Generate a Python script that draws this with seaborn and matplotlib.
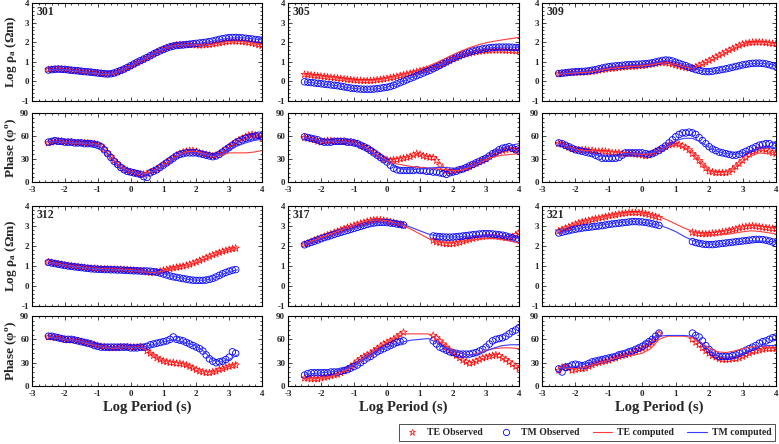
# -*- coding: utf-8 -*-
"""
MT sounding curves: apparent resistivity and phase for six stations,
observed (TE/TM markers) against computed model responses (lines).
"""

import matplotlib
matplotlib.use('Agg')
import matplotlib.pyplot as plt
from matplotlib.lines import Line2D
from matplotlib.ticker import MultipleLocator
import numpy as np
import seaborn as sns

N = float('nan')

# log10 period (s) of the observed soundings and of the model responses
LOGT_OBS = [-2.5, -2.4, -2.3, -2.2, -2.1, -2.0, -1.9, -1.8, -1.7, -1.6,
            -1.5, -1.4, -1.3, -1.2, -1.1, -1.0, -0.9, -0.8, -0.7, -0.6,
            -0.5, -0.4, -0.3, -0.2, -0.1, 0.0, 0.1, 0.2, 0.3, 0.4,
            0.5, 0.6, 0.7, 0.8, 0.9, 1.0, 1.1, 1.2, 1.3, 1.4,
            1.5, 1.6, 1.7, 1.8, 1.9, 2.0, 2.1, 2.2, 2.3, 2.4,
            2.5, 2.6, 2.7, 2.8, 2.9, 3.0, 3.1, 3.2, 3.3, 3.4,
            3.5, 3.6, 3.7, 3.8, 3.9, 4.0]
LOGT_CALC = [-2.5, -2.25, -2.0, -1.75, -1.5, -1.25, -1.0, -0.75, -0.5, -0.25,
             0.0, 0.25, 0.5, 0.75, 1.0, 1.25, 1.5, 1.75, 2.0, 2.25,
             2.5, 2.75, 3.0, 3.25, 3.5, 3.75, 4.0]

# ---- station 301 ----
S301_TE_RHO = [0.60, 0.61, 0.62, 0.62, 0.61, 0.60, 0.58, 0.56, 0.55, 0.53,
               0.50, 0.48, 0.47, 0.46, 0.44, 0.42, 0.40, 0.38, 0.37, 0.38,
               0.42, 0.48, 0.55, 0.62, 0.70, 0.78, 0.87, 0.96, 1.04, 1.12,
               1.20, 1.30, 1.40, 1.50, 1.58, 1.65, 1.72, 1.78, 1.82, 1.85,
               1.86, 1.86, 1.87, 1.87, 1.86, 1.85, 1.84, 1.85, 1.86, 1.88,
               1.90, 1.93, 1.96, 1.99, 2.02, 2.04, 2.05, 2.05, 2.04, 2.03,
               2.01, 1.98, 1.95, 1.91, 1.86, 1.82]
S301_TM_RHO = [0.58, 0.60, 0.62, 0.63, 0.62, 0.61, 0.59, 0.57, 0.55, 0.54,
               0.52, 0.50, 0.49, 0.47, 0.45, 0.43, 0.41, 0.39, 0.38, 0.39,
               0.43, 0.49, 0.56, 0.63, 0.71, 0.80, 0.89, 0.98, 1.06, 1.14,
               1.22, 1.31, 1.40, 1.48, 1.56, 1.63, 1.70, 1.76, 1.80, 1.83,
               1.85, 1.86, 1.88, 1.90, 1.92, 1.94, 1.96, 1.98, 2.00, 2.03,
               2.06, 2.10, 2.14, 2.18, 2.21, 2.23, 2.24, 2.24, 2.23, 2.22,
               2.20, 2.18, 2.16, 2.14, 2.12, 2.10]
S301_TE_PHA = [51, 52, 53, 53, 53, 52, 52, 52, 51, 51,
               51, 51, 51, 50, 50, 49, 47, 43, 38, 33,
               28, 24, 20, 17, 15, 13, 12, 11, 10, 10,
               11, 13, 15, 17, 20, 23, 26, 29, 32, 35,
               37, 39, 40, 41, 41, 40, 38, 37, 36, 35,
               34, 35, 37, 40, 43, 46, 49, 52, 55, 57,
               59, 61, 62, 61, 59, 57]
S301_TM_PHA = [52, 53, 54, 53, 53, 52, 52, 52, 51, 51,
               51, 50, 50, 50, 49, 48, 46, 42, 37, 32,
               27, 23, 19, 16, 14, 13, 12, 11, 10, 7,
               6, 12, 14, 16, 19, 22, 25, 28, 31, 34,
               36, 37, 38, 38, 38, 38, 37, 36, 35, 34,
               33, 34, 36, 39, 42, 45, 48, 51, 53, 55,
               57, 58, 59, 60, 61, 60]
S301_TE_RHO_C = [0.60, 0.62, 0.60, 0.56, 0.50, 0.46, 0.41, 0.38, 0.42, 0.58,
                 0.78, 1.00, 1.22, 1.45, 1.65, 1.80, 1.86, 1.87, 1.86, 1.86,
                 1.90, 1.98, 2.04, 2.05, 2.02, 1.96, 1.88]
S301_TM_RHO_C = [0.59, 0.62, 0.60, 0.56, 0.51, 0.46, 0.42, 0.39, 0.43, 0.59,
                 0.80, 1.02, 1.24, 1.45, 1.64, 1.78, 1.85, 1.88, 1.93, 1.98,
                 2.05, 2.14, 2.21, 2.23, 2.21, 2.17, 2.12]
S301_TE_PHA_C = [52, 53, 52, 51, 51, 50, 49, 40, 28, 18,
                 14, 11, 11, 15, 21, 28, 36, 40, 40, 37,
                 34, 35, 38, 38, 38, 39, 41]
S301_TM_PHA_C = [52, 53, 52, 51, 51, 50, 48, 40, 27, 17,
                 13, 11, 10, 15, 20, 27, 35, 38, 38, 36,
                 34, 36, 42, 47, 51, 54, 56]

# ---- station 305 ----
S305_TE_RHO = [0.35, 0.34, 0.32, 0.30, 0.28, 0.26, 0.24, 0.22, 0.20, 0.18,
               0.16, 0.14, 0.12, 0.10, 0.08, 0.06, 0.05, 0.04, 0.03, 0.03,
               0.04, 0.05, 0.07, 0.09, 0.12, 0.15, 0.18, 0.21, 0.25, 0.29,
               0.33, 0.37, 0.41, 0.45, 0.49, 0.53, 0.57, 0.61, 0.65, 0.70,
               0.76, 0.83, 0.90, 0.98, 1.06, 1.14, 1.21, 1.28, 1.34, 1.39,
               1.43, 1.47, 1.50, 1.53, 1.55, 1.57, 1.58, 1.59, 1.59, 1.59,
               1.59, 1.58, 1.57, 1.56, 1.55, 1.55]
S305_TM_RHO = [-0.02, -0.04, -0.06, -0.08, -0.10, -0.12, -0.14, -0.16, -0.18, -0.20,
               -0.22, -0.25, -0.28, -0.31, -0.34, -0.36, -0.38, -0.39, -0.40, -0.40,
               -0.40, -0.39, -0.37, -0.35, -0.32, -0.30, -0.26, -0.20, -0.13, -0.06,
               0.01, 0.08, 0.15, 0.22, 0.29, 0.36, 0.43, 0.50, 0.57, 0.65,
               0.73, 0.82, 0.91, 1.00, 1.09, 1.17, 1.25, 1.32, 1.39, 1.45,
               1.50, 1.55, 1.59, 1.63, 1.66, 1.69, 1.71, 1.73, 1.74, 1.75,
               1.75, 1.75, 1.75, 1.74, 1.73, 1.72]
S305_TE_PHA = [58, 57, 56, 55, 53, 52, 53, 54, 54, 53,
               53, 53, 53, 52, 52, 51, 50, 48, 46, 44,
               42, 39, 36, 33, 30, 29, 28, 29, 29, 30,
               31, 32, 33, 35, 37, 36, 34, 33, 32, 32,
               28, 22, 17, 15, 14, 14, 15, 16, 17, 18,
               20, 22, 24, 26, 28, 30, 33, 36, 38, 40,
               41, 42, 43, 43, 42, 42]
S305_TM_PHA = [59, 58, 57, 56, 55, 53, 52, 52, 52, 53,
               53, 53, 53, 52, 52, 51, 50, 48, 46, 44,
               41, 38, 35, 32, 29, 26, 22, 18, 16, 15,
               15, 15, 15, 15, 16, 15, 15, 14, 14, 13,
               13, 12, 11, 10, 12, 13, 14, 16, 17, 19,
               21, 23, 25, 27, 29, 31, 34, 37, 39, 42,
               44, 45, 46, 44, 42, 40]
S305_TE_RHO_C = [0.35, 0.31, 0.27, 0.22, 0.16, 0.10, 0.05, 0.03, 0.04, 0.08,
                 0.15, 0.24, 0.35, 0.48, 0.62, 0.78, 0.96, 1.16, 1.36, 1.55,
                 1.72, 1.86, 1.97, 2.05, 2.12, 2.18, 2.25]
S305_TM_RHO_C = [-0.02, -0.07, -0.12, -0.17, -0.22, -0.30, -0.36, -0.39, -0.40, -0.37,
                 -0.30, -0.16, 0.02, 0.20, 0.37, 0.54, 0.73, 0.95, 1.17, 1.36,
                 1.50, 1.61, 1.69, 1.73, 1.75, 1.75, 1.74]
S305_TE_PHA_C = [58, 56, 53, 54, 53, 52, 50, 46, 41, 34,
                 28, 24, 22, 20, 19, 18, 17, 16, 15, 15,
                 19, 24, 29, 33, 35, 36, 37]
S305_TM_PHA_C = [58, 56, 53, 54, 53, 52, 50, 46, 40, 33,
                 27, 20, 16, 16, 17, 18, 19, 19, 18, 18,
                 20, 25, 32, 39, 44, 48, 50]

# ---- station 309 ----
S309_TE_RHO = [0.38, 0.40, 0.42, 0.43, 0.44, 0.45, 0.46, 0.46, 0.47, 0.48,
               0.50, 0.53, 0.56, 0.59, 0.62, 0.64, 0.66, 0.68, 0.70, 0.72,
               0.74, 0.75, 0.76, 0.77, 0.78, 0.80, 0.82, 0.85, 0.88, 0.91,
               0.94, 0.96, 0.95, 0.92, 0.88, 0.83, 0.78, 0.74, 0.70, 0.67,
               0.68, 0.74, 0.82, 0.90, 0.98, 1.06, 1.15, 1.24, 1.33, 1.42,
               1.50, 1.59, 1.67, 1.75, 1.83, 1.90, 1.94, 1.97, 1.99, 2.00,
               2.00, 1.99, 1.97, 1.95, 1.93, 1.92]
S309_TM_RHO = [0.40, 0.42, 0.44, 0.46, 0.48, 0.49, 0.50, 0.51, 0.52, 0.54,
               0.57, 0.60, 0.64, 0.68, 0.72, 0.75, 0.77, 0.79, 0.80, 0.82,
               0.84, 0.85, 0.86, 0.87, 0.88, 0.89, 0.90, 0.92, 0.95, 0.99,
               1.03, 1.07, 1.09, 1.08, 1.04, 0.98, 0.92, 0.86, 0.80, 0.73,
               0.66, 0.60, 0.56, 0.52, 0.50, 0.50, 0.52, 0.55, 0.58, 0.61,
               0.64, 0.68, 0.72, 0.76, 0.80, 0.84, 0.87, 0.90, 0.92, 0.93,
               0.93, 0.92, 0.89, 0.85, 0.80, 0.76]
S309_TE_PHA = [50, 49, 47, 45, 43, 42, 42, 42, 42, 41,
               41, 40, 40, 40, 40, 39, 38, 38, 38, 37,
               37, 37, 37, 36, 36, 35, 34, 35, 37, 40,
               42, 44, 46, 48, 49, 50, 49, 47, 45, 42,
               37, 33, 28, 23, 18, 14, 13, 12, 12, 12,
               12, 13, 16, 20, 24, 28, 32, 36, 39, 41,
               43, 43, 42, 40, 38, 37]
S309_TM_PHA = [51, 50, 48, 46, 44, 42, 41, 40, 39, 38,
               37, 35, 33, 31, 31, 31, 31, 31, 32, 35,
               38, 38, 38, 38, 38, 38, 37, 36, 37, 39,
               41, 44, 47, 51, 55, 59, 62, 64, 64, 65,
               64, 62, 58, 54, 50, 46, 43, 41, 39, 38,
               37, 36, 35, 35, 36, 38, 40, 42, 44, 46,
               48, 49, 50, 50, 48, 47]
S309_TE_RHO_C = [0.39, 0.42, 0.44, 0.46, 0.49, 0.57, 0.64, 0.70, 0.74, 0.76,
                 0.79, 0.84, 0.92, 0.96, 0.86, 0.74, 0.68, 0.82, 1.02, 1.24,
                 1.47, 1.70, 1.88, 1.97, 2.00, 1.97, 1.93]
S309_TM_RHO_C = [0.41, 0.45, 0.49, 0.51, 0.55, 0.64, 0.74, 0.79, 0.83, 0.86,
                 0.88, 0.93, 1.01, 1.09, 1.00, 0.84, 0.68, 0.55, 0.50, 0.55,
                 0.62, 0.72, 0.82, 0.90, 0.93, 0.89, 0.80]
S309_TE_PHA_C = [50, 46, 43, 41, 41, 40, 40, 39, 38, 37,
                 36, 37, 41, 46, 49, 46, 38, 25, 15, 12,
                 13, 18, 27, 34, 38, 37, 35]
S309_TM_PHA_C = [50, 46, 42, 39, 37, 34, 33, 34, 37, 38,
                 38, 38, 41, 47, 54, 57, 57, 52, 45, 40,
                 37, 36, 38, 41, 44, 45, 44]

# ---- station 312 ----
S312_TE_RHO = [1.20, 1.17, 1.14, 1.11, 1.08, 1.05, 1.02, 1.00, 0.98, 0.96,
               0.94, 0.92, 0.90, 0.89, 0.88, 0.87, 0.86, 0.85, 0.85, 0.84,
               0.84, 0.83, 0.83, 0.82, 0.81, 0.80, 0.79, 0.77, 0.75, 0.72,
               0.69, 0.67, 0.67, 0.70, 0.74, 0.78, 0.82, 0.86, 0.90, 0.93,
               0.96, 0.99, 1.03, 1.08, 1.14, 1.20, 1.27, 1.34, 1.41, 1.48,
               1.55, 1.61, 1.67, 1.73, 1.78, 1.82, 1.86, 1.89, N, N,
               N, N, N, N, N, N]
S312_TM_RHO = [1.18, 1.15, 1.12, 1.09, 1.06, 1.03, 1.00, 0.98, 0.96, 0.94,
               0.92, 0.90, 0.88, 0.86, 0.85, 0.84, 0.83, 0.82, 0.82, 0.81,
               0.81, 0.80, 0.80, 0.79, 0.78, 0.77, 0.76, 0.76, 0.75, 0.75,
               0.75, 0.74, 0.72, 0.69, 0.65, 0.60, 0.55, 0.50, 0.46, 0.43,
               0.40, 0.37, 0.34, 0.31, 0.29, 0.28, 0.28, 0.28, 0.30, 0.33,
               0.38, 0.45, 0.53, 0.61, 0.68, 0.74, 0.79, 0.82, N, N,
               N, N, N, N, N, N]
S312_TE_PHA = [63, 63, 62, 62, 61, 60, 59, 59, 59, 58,
               57, 56, 55, 54, 53, 52, 51, 50, 49, 49,
               49, 49, 50, 50, 50, 50, 50, 50, 50, 49,
               45, 42, 39, 36, 34, 32, 31, 30, 30, 29,
               29, 28, 27, 25, 23, 21, 19, 18, 17, 17,
               18, 19, 21, 22, 24, 25, 26, 27, N, N,
               N, N, N, N, N, N]
S312_TM_PHA = [64, 64, 63, 62, 61, 60, 60, 60, 59, 58,
               57, 56, 55, 54, 52, 51, 50, 50, 50, 50,
               50, 50, 50, 50, 50, 49, 49, 49, 50, 50,
               51, 53, 54, 55, 56, 57, 58, 60, 63, 60,
               59, 58, 56, 54, 52, 50, 48, 45, 40, 35,
               32, 30, 31, 32, 34, 37, 44, 42, N, N,
               N, N, N, N, N, N]
S312_TE_RHO_C = [1.20, 1.13, 1.05, 0.99, 0.94, 0.90, 0.87, 0.85, 0.84, 0.83,
                 0.81, 0.77, 0.70, 0.68, 0.75, 0.85, 0.95, 1.05, 1.18, 1.35,
                 1.53, 1.69, 1.82, 1.89, N, N, N]
S312_TM_RHO_C = [1.18, 1.11, 1.03, 0.97, 0.92, 0.88, 0.85, 0.82, 0.81, 0.80,
                 0.78, 0.76, 0.75, 0.72, 0.62, 0.50, 0.41, 0.33, 0.29, 0.29,
                 0.36, 0.55, 0.72, 0.81, N, N, N]
S312_TE_PHA_C = [63, 62, 60, 59, 57, 54, 52, 50, 49, 50,
                 50, 50, 46, 38, 33, 31, 30, 27, 23, 19,
                 18, 21, 25, 30, N, N, N]
S312_TM_PHA_C = [64, 62, 60, 59, 57, 55, 52, 50, 50, 50,
                 50, 49, 51, 54, 57, 59, 58, 55, 51, 44,
                 33, 31, 34, 40, N, N, N]

# ---- station 317 ----
S317_TE_RHO = [2.08, 2.15, 2.22, 2.29, 2.36, 2.42, 2.48, 2.55, 2.61, 2.67,
               2.73, 2.80, 2.86, 2.92, 2.97, 3.03, 3.08, 3.13, 3.18, 3.23,
               3.27, 3.30, 3.31, 3.30, 3.28, 3.25, 3.21, 3.17, 3.12, 3.07,
               3.02, N, N, N, N, N, N, N, N, 2.27,
               2.20, 2.16, 2.13, 2.11, 2.10, 2.11, 2.14, 2.18, 2.23, 2.28,
               2.33, 2.37, 2.41, 2.44, 2.47, 2.49, 2.50, 2.50, 2.49, 2.47,
               2.44, 2.41, 2.40, 2.45, 2.55, 2.65]
S317_TM_RHO = [2.06, 2.12, 2.18, 2.24, 2.30, 2.36, 2.42, 2.47, 2.52, 2.58,
               2.63, 2.68, 2.73, 2.78, 2.83, 2.88, 2.93, 2.98, 3.03, 3.08,
               3.12, 3.15, 3.17, 3.18, 3.18, 3.17, 3.15, 3.13, 3.10, 3.08,
               3.05, N, N, N, N, N, N, N, N, 2.50,
               2.48, 2.46, 2.45, 2.44, 2.44, 2.45, 2.46, 2.48, 2.50, 2.52,
               2.54, 2.56, 2.58, 2.60, 2.61, 2.62, 2.61, 2.60, 2.58, 2.56,
               2.54, 2.50, 2.45, 2.40, 2.35, 2.30]
S317_TE_PHA = [10, 10, 9, 9, 9, 10, 11, 12, 13, 14,
               15, 17, 19, 22, 25, 28, 32, 35, 38, 40,
               42, 45, 48, 51, 54, 56, 58, 60, 63, 66,
               69, N, N, N, N, N, N, N, N, 65,
               62, 58, 54, 50, 46, 42, 39, 36, 33, 31,
               29, 30, 32, 34, 36, 37, 38, 39, 40, 39,
               36, 34, 31, 28, 25, 22]
S317_TM_PHA = [14, 16, 17, 17, 17, 17, 17, 17, 18, 18,
               18, 19, 20, 21, 23, 25, 27, 30, 33, 36,
               38, 41, 44, 46, 48, 50, 52, 54, 56, 57,
               58, N, N, N, N, N, N, N, N, 58,
               54, 50, 48, 46, 44, 43, 42, 41, 41, 41,
               41, 42, 43, 45, 47, 50, 54, 58, 60, 61,
               62, 64, 67, 70, 72, 75]
S317_TE_RHO_C = [2.08, 2.26, 2.43, 2.58, 2.73, 2.89, 3.04, 3.18, 3.28, 3.31,
                 3.27, 3.16, 3.02, 2.82, 2.60, 2.38, 2.25, 2.19, 2.19, 2.23,
                 2.29, 2.34, 2.37, 2.37, 2.32, 2.24, 2.15]
S317_TM_RHO_C = [2.06, 2.20, 2.35, 2.49, 2.63, 2.76, 2.88, 3.00, 3.10, 3.16,
                 3.17, 3.12, 3.07, 2.92, 2.76, 2.60, 2.50, 2.46, 2.45, 2.47,
                 2.50, 2.53, 2.55, 2.54, 2.50, 2.45, 2.40]
S317_TE_PHA_C = [10, 9, 10, 12, 15, 20, 27, 35, 42, 50,
                 56, 62, 67, 67, 67, 67, 60, 52, 46, 42,
                 40, 42, 46, 48, 49, 49, 48]
S317_TM_PHA_C = [15, 16, 17, 18, 19, 22, 27, 33, 40, 46,
                 50, 54, 57, 59, 60, 61, 56, 49, 45, 42,
                 40, 41, 45, 49, 52, 53, 53]

# ---- station 321 ----
S321_TE_RHO = [2.75, 2.82, 2.89, 2.95, 3.02, 3.09, 3.15, 3.20, 3.24, 3.28,
               3.32, 3.36, 3.39, 3.42, 3.46, 3.50, 3.53, 3.56, 3.59, 3.62,
               3.64, 3.66, 3.67, 3.67, 3.66, 3.64, 3.61, 3.57, 3.52, 3.47,
               3.42, N, N, N, N, N, N, N, N, N,
               2.68, 2.64, 2.61, 2.60, 2.60, 2.61, 2.63, 2.65, 2.67, 2.70,
               2.73, 2.77, 2.81, 2.85, 2.90, 2.94, 2.97, 2.99, 3.00, 2.98,
               2.96, 2.93, 2.91, 2.89, 2.87, 2.85]
S321_TM_RHO = [2.65, 2.69, 2.73, 2.77, 2.81, 2.84, 2.87, 2.90, 2.92, 2.94,
               2.96, 2.98, 3.00, 3.02, 3.05, 3.08, 3.10, 3.12, 3.14, 3.16,
               3.18, 3.20, 3.22, 3.22, 3.21, 3.20, 3.18, 3.15, 3.11, 3.07,
               3.03, N, N, N, N, N, N, N, N, N,
               2.22, 2.17, 2.13, 2.10, 2.08, 2.07, 2.07, 2.09, 2.11, 2.13,
               2.15, 2.17, 2.19, 2.21, 2.23, 2.25, 2.27, 2.29, 2.31, 2.33,
               2.33, 2.32, 2.29, 2.25, 2.20, 2.13]
S321_TE_PHA = [20, 24, 25, 23, 20, 21, 22, 22, 23, 25,
               27, 29, 30, 31, 32, 33, 35, 36, 38, 39,
               40, 41, 43, 45, 47, 48, 50, 53, 56, 61,
               67, N, N, N, N, N, N, N, N, N,
               60, 56, 53, 49, 45, 42, 39, 37, 35, 34,
               34, 34, 35, 35, 36, 38, 40, 42, 44, 45,
               46, 47, 48, 48, 48, 48]
S321_TM_PHA = [22, 18, 24, 25, 27, 28, 27, 26, 27, 29,
               31, 32, 33, 34, 35, 36, 37, 38, 40, 41,
               42, 44, 45, 47, 49, 51, 54, 57, 60, 64,
               68, N, N, N, N, N, N, N, N, N,
               68, 65, 63, 58, 52, 47, 43, 40, 38, 38,
               38, 38, 39, 40, 42, 44, 46, 48, 50, 52,
               55, 57, 58, 60, 62, 63]
S321_TE_RHO_C = [2.75, 2.93, 3.10, 3.24, 3.34, 3.42, 3.50, 3.58, 3.64, 3.67,
                 3.65, 3.58, 3.47, 3.30, 3.10, 2.90, 2.74, 2.62, 2.56, 2.56,
                 2.58, 2.64, 2.71, 2.76, 2.73, 2.67, 2.60]
S321_TM_RHO_C = [2.65, 2.74, 2.84, 2.92, 2.98, 3.04, 3.10, 3.16, 3.20, 3.22,
                 3.19, 3.12, 3.04, 2.90, 2.72, 2.48, 2.28, 2.15, 2.09, 2.09,
                 2.13, 2.19, 2.24, 2.26, 2.25, 2.23, 2.20]
S321_TE_PHA_C = [22, 23, 22, 24, 27, 30, 33, 36, 39, 40,
                 42, 48, 60, 64, 64, 64, 62, 56, 49, 44,
                 43, 45, 48, 50, 51, 50, 48]
S321_TM_PHA_C = [22, 24, 25, 28, 31, 35, 38, 42, 46, 50,
                 55, 60, 64, 65, 65, 65, 64, 56, 46, 39,
                 37, 38, 42, 47, 51, 52, 52]

STATIONS = ['301', '305', '309', '312', '317', '321']
RHO_SETS = [
    (S301_TE_RHO, S301_TM_RHO, S301_TE_RHO_C, S301_TM_RHO_C),
    (S305_TE_RHO, S305_TM_RHO, S305_TE_RHO_C, S305_TM_RHO_C),
    (S309_TE_RHO, S309_TM_RHO, S309_TE_RHO_C, S309_TM_RHO_C),
    (S312_TE_RHO, S312_TM_RHO, S312_TE_RHO_C, S312_TM_RHO_C),
    (S317_TE_RHO, S317_TM_RHO, S317_TE_RHO_C, S317_TM_RHO_C),
    (S321_TE_RHO, S321_TM_RHO, S321_TE_RHO_C, S321_TM_RHO_C),
]
PHA_SETS = [
    (S301_TE_PHA, S301_TM_PHA, S301_TE_PHA_C, S301_TM_PHA_C),
    (S305_TE_PHA, S305_TM_PHA, S305_TE_PHA_C, S305_TM_PHA_C),
    (S309_TE_PHA, S309_TM_PHA, S309_TE_PHA_C, S309_TM_PHA_C),
    (S312_TE_PHA, S312_TM_PHA, S312_TE_PHA_C, S312_TM_PHA_C),
    (S317_TE_PHA, S317_TM_PHA, S317_TE_PHA_C, S317_TM_PHA_C),
    (S321_TE_PHA, S321_TM_PHA, S321_TE_PHA_C, S321_TM_PHA_C),
]

RED = '#ff0000'
BLUE = '#0000ff'
RED_LINE = '#ff3b3b'
BLUE_LINE = '#3b3bff'

sns.set_style('ticks')
plt.rcParams['font.family'] = ['Liberation Serif', 'DejaVu Serif']
plt.rcParams['font.weight'] = 'bold'
plt.rcParams['axes.unicode_minus'] = False
plt.rcParams['mathtext.fontset'] = 'custom'
plt.rcParams['mathtext.rm'] = 'Liberation Serif:bold'
plt.rcParams['mathtext.bf'] = 'Liberation Serif:bold'
plt.rcParams['mathtext.it'] = 'Liberation Serif:bold'

W, H = 779, 444
fig = plt.figure(figsize=(W / 100, H / 100), dpi=100)


def px_axes(x0, y0, x1, y1):
    """Axes from pixel box (left, top, right, bottom)."""
    return fig.add_axes([x0 / W, 1 - y1 / H, (x1 - x0) / W, (y1 - y0) / H])


def style_axes(ax):
    ax.set_xlim(-3, 4)
    ax.xaxis.set_major_locator(MultipleLocator(1))
    ax.xaxis.set_minor_locator(MultipleLocator(0.2))
    ax.tick_params(which='both', direction='in', top=True, right=True,
                   width=0.6, labelsize=6.5, pad=2)
    ax.tick_params(axis='x', pad=3)
    ax.tick_params(which='major', length=3)
    ax.tick_params(which='minor', length=1.5)
    for sp in ax.spines.values():
        sp.set_linewidth(0.8)
        sp.set_color('black')
    for lab in ax.get_xticklabels() + ax.get_yticklabels():
        lab.set_fontweight('bold')


def draw_series(ax, te, tm, te_c, tm_c):
    sns.scatterplot(x=LOGT_OBS, y=np.array(te, dtype=float), marker='*', s=28,
                    facecolor='none', edgecolor=RED, linewidth=0.5, ax=ax, zorder=2)
    sns.scatterplot(x=LOGT_OBS, y=np.array(tm, dtype=float), marker='o', s=22,
                    facecolor='none', edgecolor=BLUE, linewidth=0.6, ax=ax, zorder=2)
    sns.lineplot(x=LOGT_CALC, y=np.array(te_c, dtype=float), color=RED_LINE,
                 linewidth=0.8, estimator=None, errorbar=None, ax=ax, zorder=3)
    sns.lineplot(x=LOGT_CALC, y=np.array(tm_c, dtype=float), color=BLUE_LINE,
                 linewidth=0.8, estimator=None, errorbar=None, ax=ax, zorder=3)


COL_X = [(32, 262), (288, 519), (542, 776)]
ROW_Y = [((3, 101), (113, 182)), ((206, 306), (316, 386))]
YLAB_X = -0.058  # right edge of the rotated y labels, in axes units

for k, name in enumerate(STATIONS):
    grp, col = divmod(k, 3)
    x0, x1 = COL_X[col]
    (r0, r1), (p0, p1) = ROW_Y[grp]

    ax_r = px_axes(x0, r0, x1, r1)
    draw_series(ax_r, *RHO_SETS[k])
    ax_r.set_ylim(-1, 4)
    ax_r.yaxis.set_major_locator(MultipleLocator(1))
    ax_r.yaxis.set_minor_locator(MultipleLocator(0.2))
    style_axes(ax_r)
    ax_r.set_xticklabels([])
    ax_r.text(0.02, 0.97, name, transform=ax_r.transAxes, ha='left', va='top',
              fontsize=8.5, fontweight='bold')

    ax_p = px_axes(x0, p0, x1, p1)
    draw_series(ax_p, *PHA_SETS[k])
    ax_p.set_ylim(0, 90)
    ax_p.yaxis.set_major_locator(MultipleLocator(30))
    ax_p.yaxis.set_minor_locator(MultipleLocator(6))
    style_axes(ax_p)

    if col == 0:
        ax_r.set_ylabel(r'Log ρ$_{a}$ (Ωm)', fontsize=9.5, fontweight='bold')
        ax_p.set_ylabel(r'Phase (φ$^{o}$)', fontsize=9.5, fontweight='bold')
        ax_r.yaxis.set_label_coords(YLAB_X, 0.5)
        ax_p.yaxis.set_label_coords(YLAB_X, 0.5)
    else:
        ax_r.set_ylabel('')
        ax_p.set_ylabel('')
    if grp == 1:
        ax_p.set_xlabel('Log Period (s)', fontsize=10.5, fontweight='bold', labelpad=2)
    else:
        ax_p.set_xlabel('')
    ax_r.set_xlabel('')

handles = [
    Line2D([], [], ls='none', marker='*', ms=5, mfc='none', mec=RED, mew=0.5),
    Line2D([], [], ls='none', marker='o', ms=4.5, mfc='none', mec=BLUE, mew=0.6),
    Line2D([], [], color=RED_LINE, lw=0.8),
    Line2D([], [], color=BLUE_LINE, lw=0.8),
]
labels = ['TE Observed', 'TM Observed', 'TE computed', 'TM computed']
leg = fig.legend(handles, labels, ncol=4, loc='center',
                 bbox_to_anchor=(587 / W, 1 - 432.5 / H),
                 prop={'family': 'Liberation Serif', 'weight': 'bold', 'size': 7},
                 frameon=True, fancybox=False, edgecolor='black',
                 handlelength=2.0, columnspacing=1.4, handletextpad=0.5,
                 borderpad=0.4)
leg.get_frame().set_linewidth(0.6)

fig.savefig('out.png', dpi=100)
plt.close(fig)
